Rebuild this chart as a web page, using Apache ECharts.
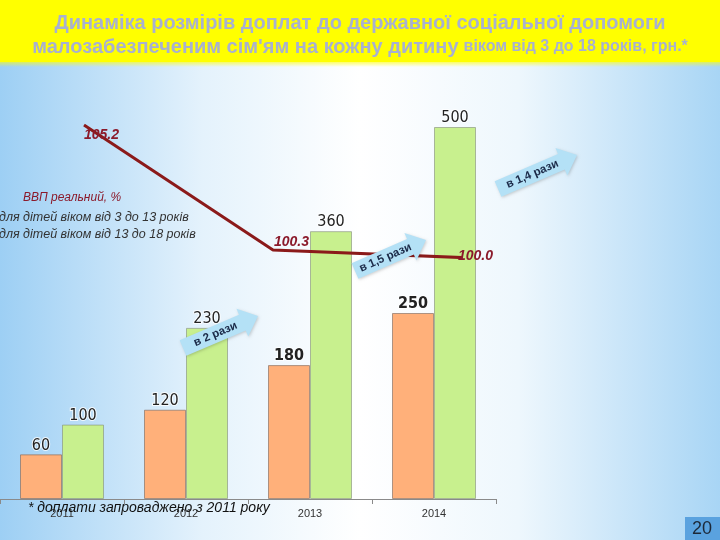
<!DOCTYPE html>
<html>
<head>
<meta charset="utf-8">
<script src="https://cdn.jsdelivr.net/npm/echarts@6/dist/echarts.min.js"></script>
<style>html,body{margin:0;padding:0;}#c{width:720px;height:540px;}</style>
</head>
<body>
<div id="c"></div>
<script>
const years = ['2011', '2012', '2013', '2014'];
const youngName = 'для дітей віком від 3 до 13 років';
const teenName = 'для дітей віком від 13 до 18 років';
const gdpName = 'ВВП реальний, %';
const youngValues = [60, 120, 180, 250];
const teenValues = [100, 230, 360, 500];
const gdpYears = ['2011', '2012', '2013'];
const gdpValues = [105.2, 100.3, 100.0];
const arrowTexts = ['в 2 рази', 'в 1,5 рази', 'в 1,4 рази'];
const titleLine1 = 'Динаміка розмірів доплат до державної соціальної допомоги';
const titleLine2a = "малозабезпеченим сім'ям на кожну дитину";
const titleLine2b = 'віком від 3 до 18 років, грн.*';
const footnote = '* доплати запроваджено з 2011 року';
const pageNo = '20';

const chart = echarts.init(document.getElementById('c'), null, {renderer: 'canvas'});

function arrow(tx, ty, hx, hy, label) {
  const dx = hx - tx, dy = ty - hy;
  const L = Math.sqrt(dx * dx + dy * dy);
  const ang = Math.atan2(dy, dx);
  const bh = 8.5, hh = 15, hl = 17;
  return {
    type: 'group', x: tx, y: ty, rotation: ang, z: 100,
    children: [
      {type: 'polygon', z: 100, shape: {points: [[0, -bh], [L - hl, -bh], [L - hl, -hh], [L, 0], [L - hl, hh], [L - hl, bh], [0, bh]]},
        style: {fill: '#b4e1f6', shadowBlur: 3, shadowColor: 'rgba(0,0,0,0.18)', shadowOffsetX: 1, shadowOffsetY: 1}},
      {type: 'text', z: 101, x: (L - hl) / 2 + 3, y: 0,
        style: {text: label, fontSize: 11.5, fontWeight: 'bold', fontFamily: 'Liberation Sans', fill: '#1b2a48', align: 'center', verticalAlign: 'middle'}}
    ]
  };
}

const barLabel = {
  show: true, position: 'top', distance: 1,
  fontFamily: "'DejaVu Sans Condensed', 'Roboto Condensed', Roboto", fontSize: 16, color: '#222',
  textBorderColor: 'rgba(255,255,255,0.8)', textBorderWidth: 2
};

const youngData = youngValues.map((v, i) => i >= 2 ? {value: v, label: {fontWeight: 'bold'}} : v);

const option = {
  animation: false,
  graphic: [
    {type: 'rect', z: -10, silent: true, shape: {x: 0, y: 0, width: 720, height: 540},
      style: {fill: {type: 'linear', x: 0, y: 0, x2: 1, y2: 0, colorStops: [
        {offset: 0, color: '#9dcff4'}, {offset: 0.28, color: '#e4f2fc'}, {offset: 0.5, color: '#ffffff'},
        {offset: 0.72, color: '#eef7fd'}, {offset: 1, color: '#a8d5f5'}]}}},
    {type: 'rect', z: -9, silent: true, shape: {x: 0, y: 0, width: 720, height: 62}, style: {fill: '#ffff00'}},
    {type: 'rect', z: -9, silent: true, shape: {x: 0, y: 62, width: 720, height: 5},
      style: {fill: {type: 'linear', x: 0, y: 0, x2: 0, y2: 1, colorStops: [{offset: 0, color: 'rgba(255,255,0,0.6)'}, {offset: 1, color: 'rgba(255,255,0,0)'}]}}},
    arrow(183, 348, 258, 316, arrowTexts[0]),
    arrow(355, 271, 426, 240, arrowTexts[1]),
    arrow(498, 189, 577, 155, arrowTexts[2]),
    {type: 'text', x: 28, y: 508, z: 100,
      style: {text: footnote, fontSize: 14, fontStyle: 'italic', fontFamily: 'Liberation Sans', fill: '#111', verticalAlign: 'middle'}},
    {type: 'rect', z: 100, shape: {x: 685, y: 517, width: 35, height: 23}, style: {fill: '#5aa2df'}},
    {type: 'text', x: 702, y: 529, z: 101,
      style: {text: pageNo, fontSize: 18, fontFamily: 'Liberation Sans', fill: '#1c2838', align: 'center', verticalAlign: 'middle'}}
  ],
  title: {
    left: 'center', top: 6,
    text: '{a|' + titleLine1 + '}\n{a|' + titleLine2a + '} {b|' + titleLine2b + '}',
    textStyle: {
      rich: {
        a: {fontSize: 20, fontWeight: 'bold', fontFamily: 'Liberation Sans', color: '#a8b1cf', lineHeight: 24},
        b: {fontSize: 16, fontWeight: 'bold', fontFamily: 'Liberation Sans', color: '#a8b1cf', lineHeight: 24}
      }
    }
  },
  legend: [
    {data: [gdpName], left: 13, top: 187, icon: 'none', itemWidth: 0, itemHeight: 10,
      textStyle: {fontSize: 12, fontStyle: 'italic', fontFamily: 'Liberation Sans', color: '#8b1a2b'}},
    {data: [youngName, teenName], orient: 'vertical', left: -6, top: 211, icon: 'none', itemWidth: 0, itemHeight: 11, itemGap: 4, padding: 0,
      textStyle: {fontSize: 12.5, fontStyle: 'italic', fontFamily: 'Liberation Sans', color: '#333'}}
  ],
  grid: [
    {left: -4, width: 500, top: 127, bottom: 41},
    {left: 84, width: 378, top: 125, height: 132.6}
  ],
  xAxis: [
    {type: 'category', gridIndex: 0, data: years,
      axisLine: {lineStyle: {color: '#8a8a8a', width: 1}},
      axisTick: {show: true, length: 5, lineStyle: {color: '#8a8a8a'}},
      axisLabel: {fontSize: 11, fontFamily: 'Liberation Sans', color: '#333', margin: 9}},
    {type: 'category', gridIndex: 1, data: gdpYears, boundaryGap: false, show: false}
  ],
  yAxis: [
    {type: 'value', gridIndex: 0, min: 0, max: 500, show: false, splitLine: {show: false}},
    {type: 'value', gridIndex: 1, min: 100, max: 105.2, show: false, splitLine: {show: false}}
  ],
  series: [
    {name: youngName, type: 'bar', xAxisIndex: 0, yAxisIndex: 0, data: youngData, barWidth: 42, barGap: '0%',
      itemStyle: {color: '#ffb07a', borderColor: 'rgba(120,100,90,0.6)', borderWidth: 1},
      label: barLabel, z: 2},
    {name: teenName, type: 'bar', xAxisIndex: 0, yAxisIndex: 0, data: teenValues, barWidth: 42, barGap: '0%',
      itemStyle: {color: '#c8f08e', borderColor: 'rgba(130,140,120,0.6)', borderWidth: 1},
      label: barLabel, z: 2},
    {name: gdpName, type: 'line', xAxisIndex: 1, yAxisIndex: 1, data: gdpValues,
      symbol: 'circle', symbolSize: 0.1, showSymbol: true, z: 5,
      lineStyle: {color: '#8b1a1a', width: 3},
      itemStyle: {color: '#8b1a1a'},
      label: {show: true, position: 'right', distance: -1, fontSize: 14, fontWeight: 'bold', fontStyle: 'italic',
        fontFamily: 'Liberation Sans', color: '#8b1a2b',
        formatter: p => p.value.toFixed(1)},
      labelLayout: function (params) {
        const offs = [[0, 3], [1, -15], [-4, -8]];
        const o = offs[params.dataIndex] || [0, 0];
        return {x: params.rect.x + o[0], y: params.rect.y + o[1]};
      }
    }
  ]
};
chart.setOption(option);
</script>
</body>
</html>
